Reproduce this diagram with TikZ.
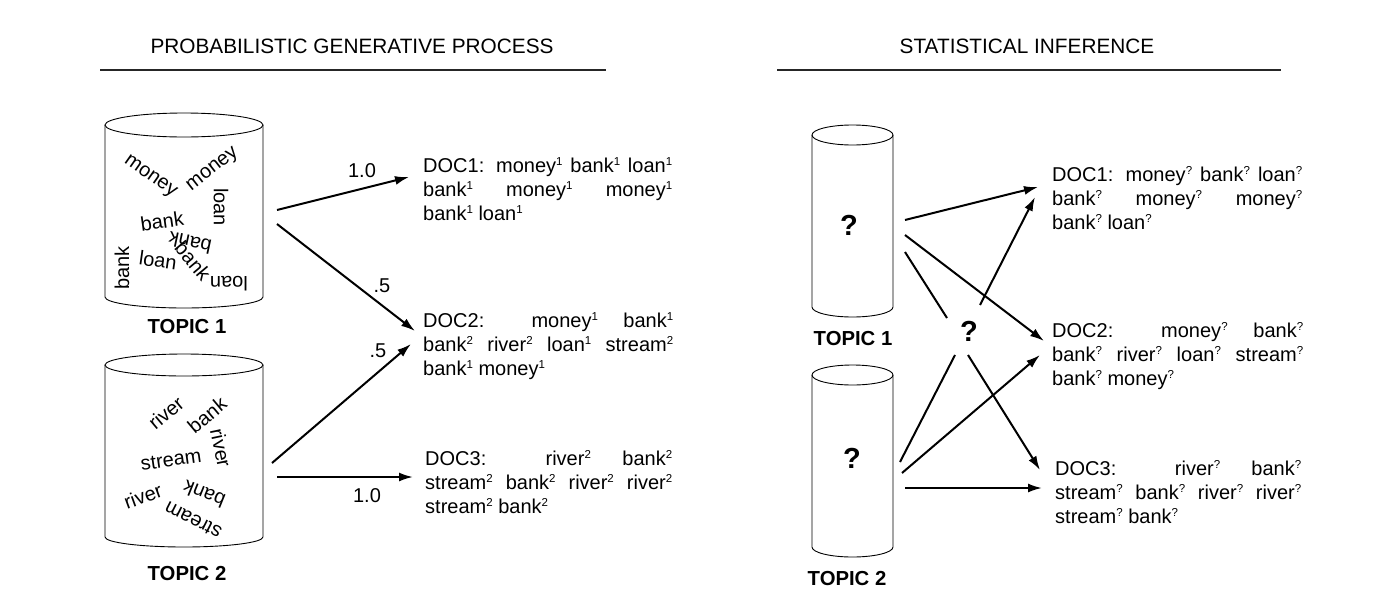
\documentclass[tikz,border=0pt]{standalone}
\usepackage{fontspec}
\setmainfont{Liberation Sans}
\usetikzlibrary{arrows.meta}
\newcommand\supone{\raisebox{6.5pt}{\fontsize{11.5}{11.5}\selectfont 1}}
\newcommand\suptwo{\raisebox{6.5pt}{\fontsize{11.5}{11.5}\selectfont 2}}
\newcommand\supq{\raisebox{6.5pt}{\fontsize{11.5}{11.5}\selectfont ?}}
\newcommand\jl[2]{\makebox[#1][s]{#2}}
\begin{document}
\begin{tikzpicture}[x=1pt,y=-1pt,
  txt/.style={inner sep=0pt, font=\fontsize{20}{24}\selectfont},
  word/.style={inner sep=0pt, font=\fontsize{20}{24}\selectfont, anchor=center},
  ttl/.style={inner sep=0pt, anchor=base, font=\fontsize{20.8}{24}\selectfont},
  topic/.style={inner sep=0pt, anchor=base, font=\fontsize{20.3}{24}\selectfont\bfseries},
  qm/.style={inner sep=0pt, font=\fontsize{29}{30}\selectfont\bfseries},
  doc/.style={inner sep=0pt, anchor=base west, font=\fontsize{20}{24}\selectfont},
  cylline/.style={line width=0.9pt},
  arr/.style={line width=2pt, -{Latex[length=14pt,width=9pt]}},
  ln/.style={line width=2pt},
  rule/.style={line width=1.2pt, black!85}]
\useasboundingbox (0,0) rectangle (1386,608);

% titles
\node[ttl] (t1) at (352,53) {PROBABILISTIC GENERATIVE PROCESS};
\node[ttl] (t2) at (1027,53) {STATISTICAL INFERENCE};
\draw[rule] (100,70) -- (606,70);
\draw[rule] (777,70) -- (1281,70);

% left cylinders
\draw[cylline] (105,125) -- (105,297) arc[start angle=180,end angle=360,x radius=79pt,y radius=11pt] -- (263,125);
\draw[cylline] (184,125) ellipse[x radius=79pt,y radius=12pt];
\draw[cylline] (105,365) -- (105,537) arc[start angle=180,end angle=360,x radius=79pt,y radius=10pt] -- (263,365);
\draw[cylline] (184,365) ellipse[x radius=79pt,y radius=11pt];

% topic 1 words
\node[word, rotate=-35] (w1) at (150,177) {money};
\node[word, rotate=38] (w2) at (213,170) {money};
\node[word, rotate=-90] (w3) at (221,207) {loan};
\node[word, rotate=8] (w4) at (162,221) {bank};
\node[word, rotate=90] (w5) at (122,268) {bank};
\node[word, rotate=-8] (w6) at (158,260) {loan};
\node[word, rotate=168] (w7) at (190,243) {bank};
\node[word, rotate=-50] (w8) at (193,261) {bank};
\node[word, rotate=180] (w9) at (229,284) {loan};

% topic 2 words
\node[word, rotate=40] (v1) at (166,413) {river};
\node[word, rotate=40] (v2) at (207,415) {bank};
\node[word, rotate=-78] (v3) at (221,448) {river};
\node[word, rotate=8] (v4) at (171,460) {stream};
\node[word, rotate=20] (v5) at (143,496) {river};
\node[word, rotate=158] (v6) at (204,494) {bank};
\node[word, rotate=153] (v7) at (193,520) {stream};

\node[topic] (tp1) at (187,333) {TOPIC 1};
\node[topic] (tp2) at (187,580) {TOPIC 2};

% left docs
\node[doc] (d1) at (423,172) {\parbox[t]{249pt}{\fontsize{20}{24}\selectfont
  \jl{249pt}{DOC1: money\supone{} bank\supone{} loan\supone}\\
  \jl{249pt}{bank\supone{} money\supone{} money\supone}\\
  bank\supone{} loan\supone}};
\node[doc] (d2) at (423,327) {\parbox[t]{250pt}{\fontsize{20}{24}\selectfont
  \jl{250pt}{DOC2: money\supone{} bank\supone}\\
  \jl{250pt}{bank\suptwo{} river\suptwo{} loan\supone{} stream\suptwo}\\
  bank\supone{} money\supone}};
\node[doc] (d3) at (425,465) {\parbox[t]{247pt}{\fontsize{20}{24}\selectfont
  \jl{247pt}{DOC3: river\suptwo{} bank\suptwo}\\
  \jl{247pt}{stream\suptwo{} bank\suptwo{} river\suptwo{} river\suptwo}\\
  stream\suptwo{} bank\suptwo}};

% left arrows
\coordinate (L1a) at (277,210); \coordinate (D1a) at (409,177);
\coordinate (L1b) at (277,224); \coordinate (D2a) at (415,331);
\coordinate (L2a) at (272,463); \coordinate (D2b) at (411,344);
\coordinate (L2b) at (277,477); \coordinate (D3a) at (413,477);
\draw[arr] (L1a) -- (D1a);
\draw[arr] (L1b) -- (D2a);
\draw[arr] (L2a) -- (D2b);
\draw[arr] (L2b) -- (D3a);
\node[txt] (p1) at (362,171) {1.0};
\node[txt] (p2) at (382,286) {.5};
\node[txt] (p3) at (378,351) {.5};
\node[txt] (p4) at (367,496) {1.0};

% right cylinders
\draw[cylline] (812,135) -- (812,307) arc[start angle=180,end angle=360,x radius=40.5pt,y radius=10pt] -- (893,135);
\draw[cylline] (852.5,135) ellipse[x radius=40.5pt,y radius=10pt];
\draw[cylline] (812,375) -- (812,547) arc[start angle=180,end angle=360,x radius=40.5pt,y radius=10pt] -- (893,375);
\draw[cylline] (852.5,375) ellipse[x radius=40.5pt,y radius=10pt];
\node[qm] (q1) at (849,225) {?};
\node[qm] (q2) at (852,458) {?};
\node[qm] (qc) at (969,331) {?};
\node[topic] (rt1) at (853,345) {TOPIC 1};
\node[topic] (rt2) at (847,585) {TOPIC 2};

% right docs
\node[doc] (e1) at (1052,181) {\parbox[t]{250pt}{\fontsize{20}{24}\selectfont
  \jl{250pt}{DOC1: money\supq{} bank\supq{} loan\supq}\\
  \jl{250pt}{bank\supq{} money\supq{} money\supq}\\
  bank\supq{} loan\supq}};
\node[doc] (e2) at (1052,337) {\parbox[t]{251pt}{\fontsize{20}{24}\selectfont
  \jl{251pt}{DOC2: money\supq{} bank\supq}\\
  \jl{251pt}{bank\supq{} river\supq{} loan\supq{} stream\supq}\\
  bank\supq{} money\supq}};
\node[doc] (e3) at (1055,475) {\parbox[t]{246pt}{\fontsize{20}{24}\selectfont
  \jl{246pt}{DOC3: river\supq{} bank\supq}\\
  \jl{246pt}{stream\supq{} bank\supq{} river\supq{} river\supq}\\
  stream\supq{} bank\supq}};

% right connectors
\coordinate (R1a) at (905,220); \coordinate (E1a) at (1038,187);
\coordinate (R1b) at (905,235); \coordinate (E2a) at (1044,341);
\coordinate (R1c) at (905,252); \coordinate (Qa) at (947,318);
\coordinate (Qb) at (980,305); \coordinate (E1b) at (1035,197);
\coordinate (Qc) at (955,355); \coordinate (R2a) at (900,462);
\coordinate (Qd) at (968,355); \coordinate (E3a) at (1040,470);
\coordinate (R2b) at (902,473); \coordinate (E2b) at (1040,355);
\coordinate (R2c) at (905,488); \coordinate (E3b) at (1042,488);
\draw[arr] (R1a) -- (E1a);
\draw[arr] (R1b) -- (E2a);
\draw[ln] (R1c) -- (Qa);
\draw[arr] (Qb) -- (E1b);
\draw[ln] (Qc) -- (R2a);
\draw[arr] (Qd) -- (E3a);
\draw[arr] (R2b) -- (E2b);
\draw[arr] (R2c) -- (E3b);
\end{tikzpicture}
\end{document}
